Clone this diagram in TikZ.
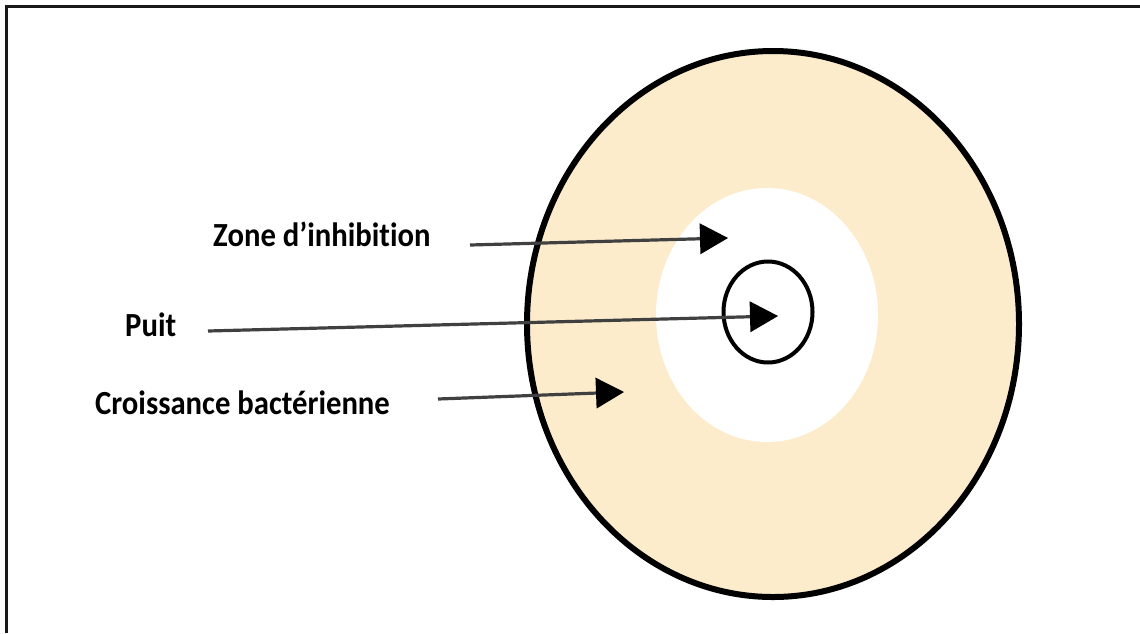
\documentclass[tikz,border=0pt]{standalone}
\usepackage{fontspec}
\setmainfont{Carlito}[Ligatures=NoCommon]
\usetikzlibrary{arrows.meta,shapes.geometric}
\definecolor{beige}{RGB}{252,236,204}
\begin{document}
\begin{tikzpicture}[x=1pt,y=-1pt,
  lbl/.style={font=\bfseries\fontsize{30.7}{36}\selectfont, anchor=base west, inner sep=0pt, text=black},
  pointer/.style={draw=black!75, line width=3.2pt, -{Triangle[length=28pt,width=31pt,fill=black,line width=0pt]}},
  rim/.style={draw=black, line width=6pt},
  well/.style={draw=black, line width=4pt}]
\useasboundingbox (0,0) rectangle (1140,633);
\fill[white] (0,0) rectangle (1140,633);
% frame (top and left edges)
\draw[line width=3pt, black!90] (6,633) -- (6,6) -- (1140,6);
% plate
\draw[rim, fill=beige] (773,324) ellipse [x radius=246, y radius=273];
% inhibition zone
\fill[white] (767,315) ellipse [x radius=111, y radius=127];
% well
\node[well, ellipse, minimum width=89pt, minimum height=101pt, inner sep=0pt] (puits) at (768,312) {};
% labels
\node[lbl] (zone) at (213,246) {\scalebox{1}[1.1]{Zone d’inhibition}};
\node[lbl] (puit) at (125,336) {\scalebox{1}[1.1]{Puit}};
\node[lbl] (crois) at (95,414) {\scalebox{1}[1.1]{Croissance bactérienne}};
% arrow anchors
\coordinate (zs) at (470,245);
\coordinate (zt) at (728,238);
\coordinate (ps) at (208,331);
\coordinate (pt) at (778,316);
\coordinate (cs) at (438,399);
\coordinate (ct) at (624,392);
\draw[pointer] (zs) -- (zt);
\draw[pointer] (ps) -- (pt);
\draw[pointer] (cs) -- (ct);
\end{tikzpicture}
\end{document}
